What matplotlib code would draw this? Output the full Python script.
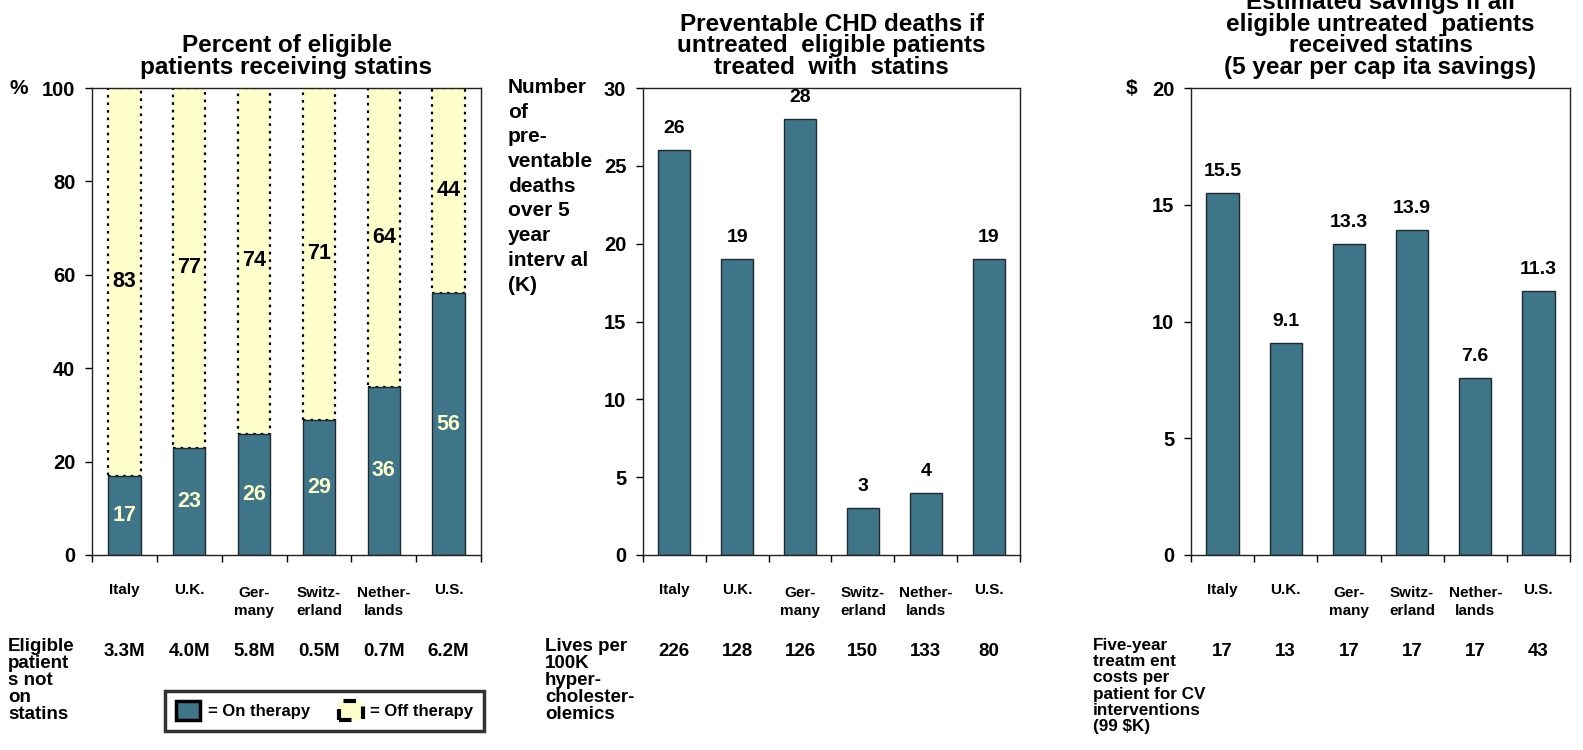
"""Statin use, preventable CHD deaths and savings across six countries"""

import matplotlib
matplotlib.use("Agg")
from matplotlib import pyplot as plt
from matplotlib.patches import Patch

plt.rcParams["font.family"] = ["Liberation Sans", "DejaVu Sans"]
plt.rcParams["font.weight"] = "bold"

countries = ["Italy", "U.K.", "Ger-\nmany", "Switz-\nerland", "Nether-\nlands", "U.S."]

on_therapy = [17, 23, 26, 29, 36, 56]
off_therapy = [83, 77, 74, 71, 64, 44]
eligible_not_on = ["3.3M", "4.0M", "5.8M", "0.5M", "0.7M", "6.2M"]

deaths_k = [26, 19, 28, 3, 4, 19]
lives_per_100k = ["226", "128", "126", "150", "133", "80"]

savings = [15.5, 9.1, 13.3, 13.9, 7.6, 11.3]
treatment_costs = ["17", "13", "17", "17", "17", "43"]

TEAL = "#3E7588"
PALE = "#FFFFCC"

W, H = 1583, 750
fig = plt.figure(figsize=(W / 100, H / 100), dpi=100)


def px_axes(left, right, top=88, bottom=555):
    """Axes placed by pixel edges"""
    return fig.add_axes([left / W, 1 - bottom / H, (right - left) / W, (bottom - top) / H])


def style_axes(ax, ymax, step):
    ax.set_xlim(-0.5, 5.5)
    ax.set_ylim(0, ymax)
    ax.set_yticks(range(0, ymax + 1, step))
    ax.set_xticks([i - 0.5 for i in range(7)])
    ax.set_xticklabels([])
    ax.tick_params(axis="y", direction="out", length=5, width=1, pad=7, labelsize=14.5)
    ax.tick_params(axis="x", direction="out", length=5, width=1)
    for s in ax.spines.values():
        s.set_linewidth(1)
        s.set_color("#222222")
    for i, name in enumerate(countries):
        dy = -31 if "\n" in name else -28
        ax.annotate(name, (i, 0), xytext=(0, dy), textcoords="offset pixels",
                    ha="center", va="top", fontsize=11, linespacing=1.4,
                    annotation_clip=False)


def row(ax, label, x_px, values, size=13.5):
    fig.text(x_px / W, 1 - 638 / H, label, ha="left", va="top", fontsize=size,
             linespacing=13.5 / size)
    for i, v in enumerate(values):
        ax.annotate(v, (i, 0), xytext=(0, -88), textcoords="offset pixels",
                    ha="center", va="top", fontsize=13.5, annotation_clip=False)


def title(ax, text):
    ax.annotate(text, (0.5, 1), xycoords="axes fraction", xytext=(0, 9),
                textcoords="offset pixels", ha="center", va="bottom",
                fontsize=17.5, linespacing=0.93, annotation_clip=False)


x = range(len(countries))

# Panel 1: share of eligible patients on / off statins
ax1 = px_axes(92, 481)
ax1.bar(x, off_therapy, 0.5, bottom=on_therapy, color=PALE, edgecolor="black",
        linewidth=1.6, linestyle=(0, (1.2, 2.2)))
ax1.bar(x, on_therapy, 0.5, color=TEAL, edgecolor="#1e2a30", linewidth=1)
for i in x:
    ax1.text(i, on_therapy[i] / 2, str(on_therapy[i]), ha="center", va="center",
             fontsize=15.5, color=PALE)
    ax1.text(i, on_therapy[i] + off_therapy[i] / 2, str(off_therapy[i]),
             ha="center", va="center", fontsize=15.5, color="black")
style_axes(ax1, 100, 20)
title(ax1, "Percent of eligible\npatients receiving statins")
fig.text(19 / W, 1 - 88 / H, "%", ha="center", va="center", fontsize=15)
row(ax1, "Eligible\npatient\ns not\non\nstatins", 8, eligible_not_on)

handles = [Patch(facecolor=TEAL, edgecolor="black", linewidth=2.5),
           Patch(facecolor=PALE, edgecolor="black", linewidth=3, linestyle=(0, (3, 3)))]
leg = fig.legend(handles, ["= On therapy", "= Off therapy"], ncol=2,
                 loc="lower left", bbox_to_anchor=(165 / W, 1 - 731 / H),
                 frameon=True, fancybox=False, edgecolor="black", fontsize=12,
                 handlelength=1.45, handleheight=1.35, handletextpad=0.45,
                 columnspacing=1.75, borderpad=0.65, borderaxespad=0)
leg.get_frame().set_linewidth(2.5)

# Panel 2: preventable CHD deaths
ax2 = px_axes(643, 1020)
ax2.bar(x, deaths_k, 0.51, color=TEAL, edgecolor="#1e2a30", linewidth=1)
for i, v in enumerate(deaths_k):
    ax2.annotate(str(v), (i, v), xytext=(0, 13), textcoords="offset pixels",
                 ha="center", va="bottom", fontsize=14)
style_axes(ax2, 30, 5)
title(ax2, "Preventable CHD deaths if\nuntreated  eligible patients\ntreated  with  statins")
fig.text(508 / W, 1 - 78 / H,
         "Number\nof\npre-\nventable\ndeaths\nover 5\nyear\ninterv al\n(K)",
         ha="left", va="top", fontsize=15, linespacing=1.38)
row(ax2, "Lives per\n100K\nhyper-\ncholester-\nolemics", 545, lives_per_100k)

# Panel 3: estimated savings
ax3 = px_axes(1191, 1570)
ax3.bar(x, savings, 0.51, color=TEAL, edgecolor="#1e2a30", linewidth=1)
for i, v in enumerate(savings):
    ax3.annotate(f"{v:.1f}", (i, v), xytext=(0, 13), textcoords="offset pixels",
                 ha="center", va="bottom", fontsize=14)
style_axes(ax3, 20, 5)
title(ax3, "Estimated savings if all\neligible untreated  patients\nreceived statins\n"
           "(5 year per cap ita savings)")
fig.text(1132 / W, 1 - 88 / H, "$", ha="center", va="center", fontsize=15)
row(ax3, "Five-year\ntreatm ent\ncosts per\npatient for CV\ninterventions\n(99 $K)",
    1093, treatment_costs, size=12.3)

fig.savefig("out.png", dpi=100)
